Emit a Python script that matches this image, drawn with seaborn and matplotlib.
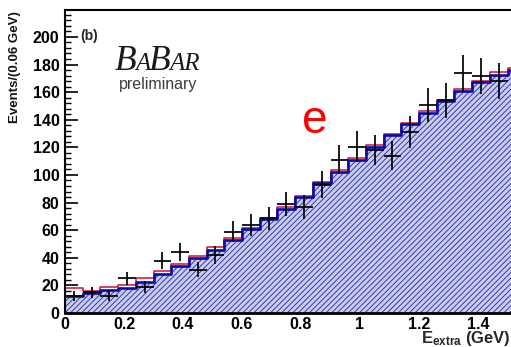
import matplotlib
matplotlib.use('Agg')
import matplotlib.pyplot as plt
import seaborn as sns
import pandas as pd
import numpy as np

# ---------------------------------------------------------
# data (bin width 0.06 GeV)
# ---------------------------------------------------------
bin_width = 0.06
n_bins = 26
bkg_counts = [12, 14.5, 17, 18, 22.5, 28.5, 34, 40, 45.5, 53, 60.5, 68, 75.5,
              84, 94, 102.5, 111, 120.5, 129, 137, 145, 153.5, 160.5, 167, 172.5, 176]
tot_counts = [18, 16, 19, 20, 25, 30.5, 35.5, 41.5, 48, 54.5, 61.5, 69, 76.5,
              85, 95, 103.5, 112, 121.5, 130, 138, 146, 154.5, 162.5, 168, 174.5, 177.5]
data_counts = [12.5, 15, 12.5, 25, 19, 38, 44, 31.5, 42, 59, 64, 68.5, 79, 77,
               93, 111, 120.5, 118, 114, 131, 150.5, 154, 173.5, 171.5, 168]
data_errs = [3.5, 3.9, 3.5, 5.0, 4.4, 6.2, 6.6, 5.6, 6.5, 7.7, 8.0, 8.3, 8.9, 8.8,
             9.6, 10.5, 11.0, 10.9, 10.7, 11.4, 12.3, 12.4, 13.2, 13.1, 13.0]

x_ticks = [0, 0.2, 0.4, 0.6, 0.8, 1.0, 1.2, 1.4]
x_ticklabels = ['0', '0.2', '0.4', '0.6', '0.8', '1', '1.2', '1.4']
y_ticks = [0, 20, 40, 60, 80, 100, 120, 140, 160, 180, 200]

edges = [round(i * bin_width, 3) for i in range(n_bins + 1)]
centers = [(a + b) / 2 for a, b in zip(edges[:-1], edges[1:])]

hist_df = pd.DataFrame({'E': centers, 'bkg': bkg_counts, 'tot': tot_counts})

sns.set_style('ticks')
plt.rcParams['font.family'] = ['Liberation Sans', 'DejaVu Sans']
plt.rcParams['mathtext.fontset'] = 'custom'
plt.rcParams['mathtext.rm'] = 'Liberation Sans'
plt.rcParams['mathtext.bf'] = 'Liberation Sans:bold'
plt.rcParams['hatch.linewidth'] = 0.6

fig = plt.figure(figsize=(5.11, 3.47), dpi=100)
W, H = 511, 347
ax = fig.add_axes([65 / W, 34 / H, 1.6 * 295 / W, 303 / H])

# background histogram, hatched fill
sns.histplot(data=hist_df, x='E', weights='bkg', bins=edges, element='step', fill=True,
             color='#c4c7f0', alpha=1, linewidth=0, ax=ax)
poly = ax.collections[-1]
poly.set_facecolor('#c8cbf2')
poly.set_edgecolor('#25259c')
poly.set_hatch('//////')
poly.set_linewidth(0)

# total (red) then background outline (blue)
sns.histplot(data=hist_df, x='E', weights='tot', bins=edges, element='step', fill=False,
             color='#d01030', linewidth=1.1, ax=ax)
sns.histplot(data=hist_df, x='E', weights='bkg', bins=edges, element='step', fill=False,
             color='#0a0aa8', linewidth=1.9, ax=ax)

# data points
ax.errorbar(centers[:len(data_counts)], data_counts, yerr=data_errs, xerr=bin_width / 2,
            fmt='none', ecolor='black', elinewidth=1.25, capsize=0, zorder=5)

ax.set_xlim(0, 1.6)
ax.set_ylim(0, 219.5)
ax.set_xlabel('')
ax.set_ylabel('')
ax.set_xticks(x_ticks)
ax.set_xticklabels(x_ticklabels)
ax.set_yticks(y_ticks)
ax.set_xticks(np.arange(0, 1.6, 0.05), minor=True)
ax.set_yticks(np.arange(0, 220, 4), minor=True)
ax.tick_params(which='major', direction='in', length=9.5, width=1.2, colors='black',
               labelsize=11.5, pad=4)
ax.tick_params(which='minor', direction='in', length=4.5, width=1.0, colors='black')
ax.tick_params(axis='x', which='both', top=False, pad=3)
ax.tick_params(axis='y', which='both', right=False)
for lab in ax.get_xticklabels() + ax.get_yticklabels():
    lab.set_fontweight('bold')
ax.spines['right'].set_visible(False)
ax.spines['top'].set_linewidth(1.5)
ax.spines['left'].set_linewidth(1.5)
ax.spines['bottom'].set_linewidth(2.0)
for s in ax.spines.values():
    s.set_color('black')

# labels
fig.text(15 / W, 1 - 11 / H, 'Events/(0.06 GeV)', rotation=90, ha='center', va='top',
         fontsize=9.5, fontweight='bold', color='#111111')
fig.text(421 / W, 1 - 343 / H, r'$\mathbf{E_{extra}}$ (GeV)', ha='left', va='baseline',
         fontsize=12, fontweight='bold')
fig.text(80 / W, 1 - 36 / H, '(b)', ha='left', va='center', fontsize=10, fontweight='bold')

# BaBar logo, built piece by piece
renderer = fig.canvas.get_renderer()
x_px = 115
for piece, size in [('B', 25.5), ('A', 18), ('B', 25.5), ('AR', 18)]:
    t = fig.text(x_px / W, 1 - 70 / H, piece, ha='left', va='baseline', fontsize=size,
                 family='Liberation Serif', style='italic', color='#1a1a1a')
    bb = t.get_window_extent(renderer)
    x_px += bb.width - 1.5
fig.text(158 / W, 1 - 84 / H, 'preliminary', ha='center', va='center', fontsize=11.5,
         color='#3a3a3a')

fig.text(315 / W, 1 - 121 / H, 'e', ha='center', va='center', fontsize=33, color='red')

fig.savefig('out.png', dpi=100)
plt.close(fig)
